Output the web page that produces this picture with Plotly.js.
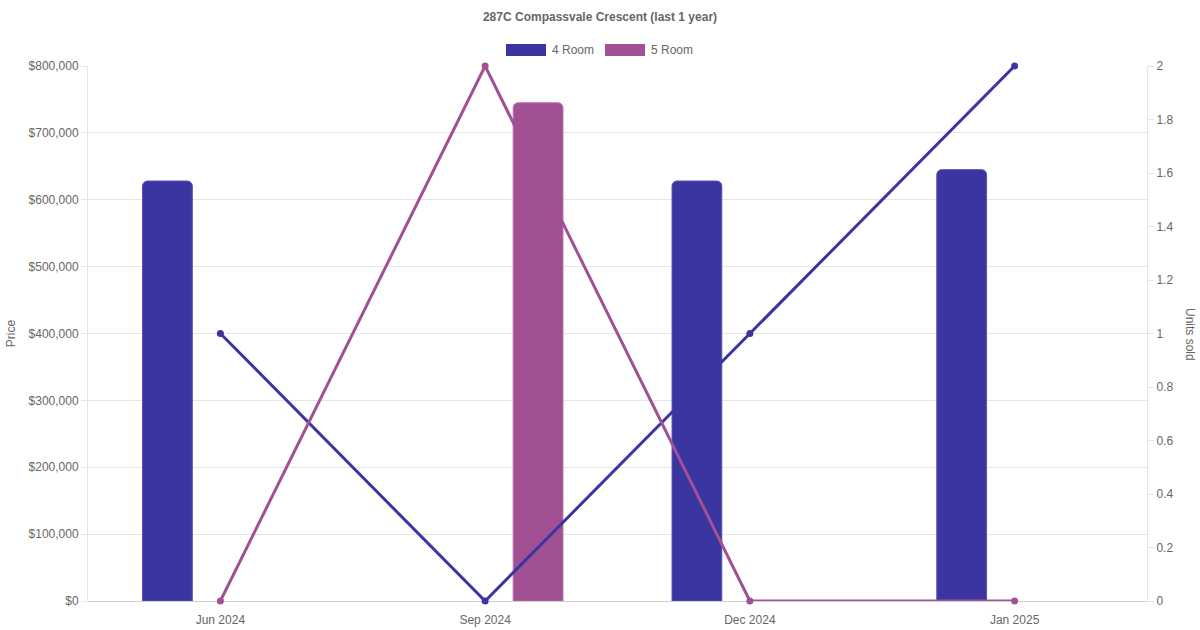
<!DOCTYPE html>
<html>
<head>
<meta charset="utf-8">
<script src="https://cdn.plot.ly/plotly-3.0.1.min.js"></script>
<style>
  html, body { margin: 0; padding: 0; background: #fff; }
  #chart { width: 1200px; height: 630px; }
</style>
</head>
<body>
<div id="chart"></div>
<script>
/* 287C Compassvale Crescent — price bars + units sold lines */

const COLORS = {
  room4: '#3A35A0',
  room5: '#A05093',
  text:  '#666666',
  grid:  '#E5E5E5',
  axis:  '#D0D0D0',
};
const FONT = 'Liberation Sans, Arial, Helvetica, sans-serif';

// data
const months      = ['Jun 2024', 'Sep 2024', 'Dec 2024', 'Jan 2025'];
const price4Room  = [628000, null, 628000, 645000];
const price5Room  = [null, 745000, null, null];
const units4Room  = [1, 0, 1, 2];
const units5Room  = [0, 2, 0, 0];

const traces = [
  {
    name: '4 Room', type: 'bar', x: months, y: price4Room, yaxis: 'y',
    marker: { color: COLORS.room4, cornerradius: 5, line: { color: '#5550B8', width: 1 } },
    showlegend: false, hoverinfo: 'x+y',
  },
  {
    name: '5 Room', type: 'bar', x: months, y: price5Room, yaxis: 'y',
    marker: { color: COLORS.room5, cornerradius: 5, line: { color: '#B570A8', width: 1 } },
    showlegend: false, hoverinfo: 'x+y',
  },
  {
    name: '4 Room', type: 'scatter', mode: 'lines+markers', x: months, y: units4Room, yaxis: 'y2',
    line: { color: COLORS.room4, width: 3 },
    marker: { color: COLORS.room4, size: 7 },
    showlegend: false, cliponaxis: false,
  },
  {
    name: '5 Room', type: 'scatter', mode: 'lines+markers', x: months, y: units5Room, yaxis: 'y2',
    line: { color: COLORS.room5, width: 3 },
    marker: { color: COLORS.room5, size: 7 },
    showlegend: false, cliponaxis: false,
  },
];

// hand-made legend boxes (Chart.js style wide swatches)
const legendItems = [
  { label: '4 Room', color: COLORS.room4, x0: 506 },
  { label: '5 Room', color: COLORS.room5, x0: 605 },
];
const W = 1200, H = 630, ML = 88, MR = 53, MT = 66, MB = 29;
const px = v => (v - ML) / (W - ML - MR);
const py = v => (H - MB - v) / (H - MT - MB);

const shapes = legendItems.map(it => ({
  type: 'rect', xref: 'paper', yref: 'paper',
  x0: px(it.x0), x1: px(it.x0 + 40), y0: py(56), y1: py(44),
  fillcolor: it.color, line: { width: 0 },
}));
const annotations = legendItems.map(it => ({
  xref: 'paper', yref: 'paper', x: px(it.x0 + 44), y: py(50),
  xanchor: 'left', yanchor: 'middle', showarrow: false,
  text: it.label, font: { family: FONT, size: 12, color: COLORS.text },
}));
annotations.push({
  xref: 'paper', yref: 'paper', x: px(1190), y: py(334),
  xanchor: 'center', yanchor: 'middle', showarrow: false, textangle: 90,
  text: 'Units sold', font: { family: FONT, size: 12, color: COLORS.text },
});

const layout = {
  width: W, height: H,
  paper_bgcolor: '#fff', plot_bgcolor: '#fff',
  font: { family: FONT, size: 12, color: COLORS.text },
  margin: { l: ML, r: MR, t: MT, b: MB },
  title: {
    text: '<b>287C Compassvale Crescent (last 1 year)</b>',
    font: { family: FONT, size: 12, color: COLORS.text },
    x: 0.5, xanchor: 'center', y: 1 - 17 / H, yanchor: 'middle',
  },
  barmode: 'group', bargap: 0.2, bargroupgap: 0.53,
  showlegend: false,
  xaxis: {
    type: 'category', showgrid: false, zeroline: false,
    showline: false, ticks: '', ticklabelstandoff: 10,
    tickfont: { family: FONT, size: 12, color: COLORS.text },
  },
  yaxis: {
    range: [0, 800000], dtick: 100000, tickprefix: '$', tickformat: ',d',
    gridcolor: COLORS.grid, gridwidth: 1, zeroline: true, zerolinecolor: COLORS.axis, zerolinewidth: 1,
    showline: true, linecolor: COLORS.grid, ticks: 'outside', ticklen: 6, tickcolor: COLORS.grid,
    tickfont: { family: FONT, size: 12, color: COLORS.text },
    title: { text: 'Price', standoff: 10, font: { family: FONT, size: 12, color: COLORS.text } },
  },
  yaxis2: {
    overlaying: 'y', side: 'right', range: [0, 2], dtick: 0.2,
    showgrid: false, zeroline: false,
    showline: true, linecolor: COLORS.grid, ticks: 'outside', ticklen: 6, tickcolor: COLORS.grid,
    tickfont: { family: FONT, size: 12, color: COLORS.text },
  },
  shapes: shapes,
  annotations: annotations,
};

Plotly.newPlot('chart', traces, layout, { displayModeBar: false, responsive: false });
</script>
</body>
</html>
